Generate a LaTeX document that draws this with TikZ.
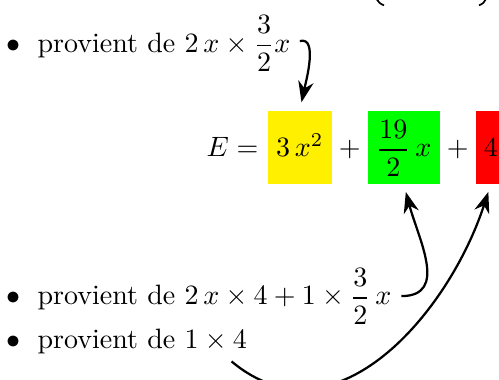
\documentclass[tikz,border=0pt]{standalone}
\usepackage{amsmath}
\usepackage{tikz}
\usetikzlibrary{arrows.meta,positioning}

\definecolor{boxyellow}{RGB}{255,240,0}
\definecolor{boxgreen}{RGB}{0,255,0}
\definecolor{boxred}{RGB}{255,0,0}

\begin{document}
\begin{tikzpicture}[x=0.3571pt, y=0.3571pt, >={Stealth[length=7.5pt,width=5.5pt]},
  txt/.style={inner sep=0pt, outer sep=0pt},
  term/.style={inner sep=3pt, outer sep=0pt, text height=13.6pt, text depth=6.6pt},
  link/.style={->, thick, shorten >=3pt}]

% --- PARAMETERS ---
\def\gap{2.5pt} % space round the + signs
\def\bul{$\bullet$\hspace{6.3pt}} % bullet of the list

\useasboundingbox (0,0) rectangle (499,380);

% --- PARENTHESES (cut at the top) ---
\draw[line width=0.6pt] (376.5,381) .. controls (378,378) and (380.5,376) .. (384,374.6);
\draw[line width=0.6pt] (486,381) .. controls (485,378) and (482.5,376) .. (479,374.6);

% --- FIRST ITEM ---
\node[txt, anchor=base west] (top) at (6,327.5)
  {\bul provient de $2\,x\times\dfrac{3}{2}x$};

% --- EXPANDED FORM ---
\node[txt, anchor=base east] (eq) at (258.5,223) {$E=$};
\node[term, fill=boxyellow, base right=3.3pt of eq] (yel) {$3\,x^2$};
\node[txt, base right=\gap of yel] (p1) {$+$};
\node[term, fill=boxgreen, base right=\gap of p1] (grn) {$\dfrac{19}{2}\,x$};
\node[txt, base right=\gap of grn] (p2) {$+$};
\node[term, fill=boxred, base right=\gap of p2] (red) {$4$};

% --- LAST ITEMS ---
\node[txt, anchor=base west] (bot1) at (6,75)
  {\bul provient de $2\,x\times4+1\times\dfrac{3}{2}\,x$};
\node[txt, anchor=base west] (bot2) at (6,31)
  {\bul provient de $1\times4$};

% --- ARROWS ---
\draw[link, shorten <=3.5pt] (top.east) to[out=15, in=78, looseness=1.1] (yel.north);
\draw[link, shorten <=3.5pt] (bot1.east) to[out=0, in=-75, looseness=1.3] (grn.south);
\draw[link] ([shift={(-5.5pt,-2.5pt)}]bot2.south east) to[out=-40, in=-108, looseness=1.1] (red.south);

\end{tikzpicture}
\end{document}
